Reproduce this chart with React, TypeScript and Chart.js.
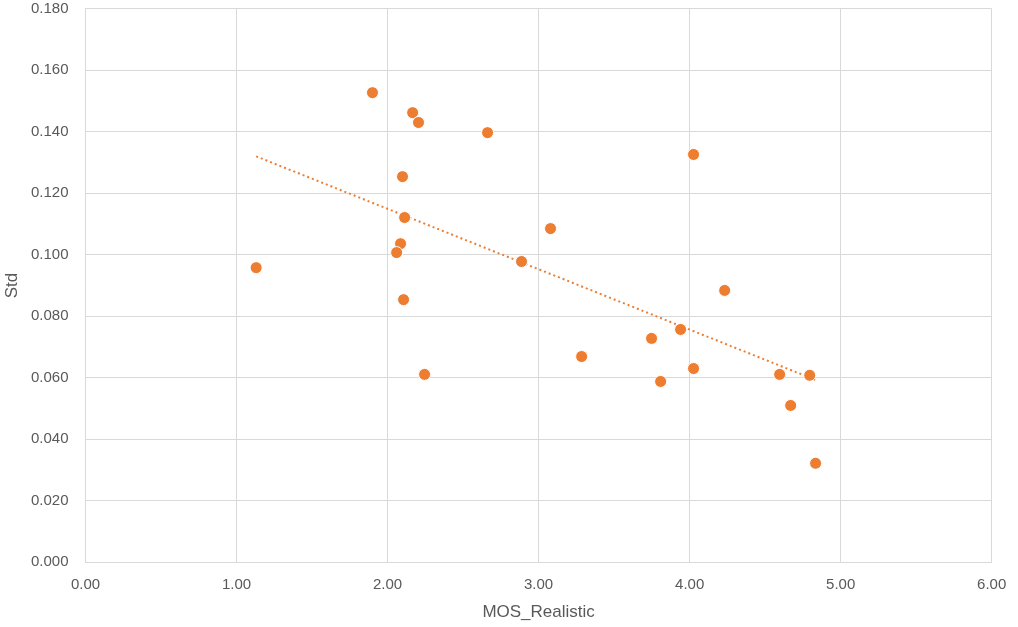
import React, { useEffect, useRef } from "react";
import { Chart, registerables } from "chart.js";

Chart.register(...registerables);

const mosRealistic = [
  1.13, 1.9, 2.166, 2.205, 2.662, 2.099, 2.113, 2.086, 2.06, 2.106, 2.245, 2.887,
  3.079, 3.285, 3.748, 3.808, 3.94, 4.026, 4.026, 4.232, 4.596, 4.669, 4.795, 4.834,
];
const stdValues = [
  0.0958, 0.1527, 0.1462, 0.143, 0.1397, 0.1254, 0.1121, 0.1036, 0.1007, 0.0854, 0.0611, 0.0978,
  0.1085, 0.0669, 0.0728, 0.0588, 0.0757, 0.1326, 0.063, 0.0884, 0.0611, 0.051, 0.0608, 0.0322,
];
const trendX = [1.13, 4.834];
const trendY = [0.132, 0.0593];

const xTickLabel = (v: number) => v.toFixed(2);
const yTickLabel = (v: number) => v.toFixed(3);

const ORANGE = "#ED7D31";
const GRID = "#d9d9d9";
const TEXT = "#595959";
const FONT = "'Liberation Sans', Arial, sans-serif";

export default function App() {
  const ref = useRef<HTMLCanvasElement | null>(null);

  useEffect(() => {
    if (!ref.current) return;
    const points = mosRealistic.map((x, i) => ({ x, y: stdValues[i] }));
    const trend = trendX.map((x, i) => ({ x, y: trendY[i] }));
    const chart = new Chart(ref.current, {
      type: "scatter",
      data: {
        datasets: [
          {
            label: "Std",
            data: points,
            backgroundColor: ORANGE,
            borderColor: "#ffffff",
            borderWidth: 1,
            pointRadius: 6,
            pointHoverRadius: 6,
            order: 1,
          },
          {
            label: "Trend",
            data: trend,
            showLine: true,
            borderColor: ORANGE,
            borderWidth: 2,
            borderDash: [2, 3],
            pointRadius: 0,
            fill: false,
            order: 2,
          } as any,
        ],
      },
      options: {
        animation: false,
        responsive: false,
        maintainAspectRatio: false,
        layout: { padding: { top: 8.7, right: 26.3, left: 0, bottom: 0 } },
        plugins: {
          legend: { display: false },
          tooltip: { enabled: false },
        },
        scales: {
          x: {
            type: "linear",
            min: 0,
            max: 6,
            ticks: {
              stepSize: 1,
              callback: (v: any) => xTickLabel(Number(v)),
              color: TEXT,
              font: { family: FONT, size: 15 },
              padding: 14,
            },
            grid: { color: GRID, lineWidth: 1, drawTicks: false },
            border: { color: GRID, width: 1 },
            title: {
              display: true,
              text: "MOS_Realistic",
              color: TEXT,
              font: { family: FONT, size: 17 },
              padding: { top: 0, bottom: 4 },
            },
            afterFit: (scale: any) => {
              scale.height = 64.7;
              scale.paddingLeft = 0;
              scale.paddingRight = 0;
            },
          },
          y: {
            type: "linear",
            min: 0,
            max: 0.18,
            ticks: {
              stepSize: 0.02,
              callback: (v: any) => yTickLabel(Number(v)),
              color: TEXT,
              font: { family: FONT, size: 15 },
              padding: 17,
            },
            grid: { color: GRID, lineWidth: 1, drawTicks: false },
            border: { color: GRID, width: 1 },
            title: {
              display: true,
              text: "Std",
              color: TEXT,
              font: { family: FONT, size: 17 },
              padding: { top: 2, bottom: 0 },
            },
            afterFit: (scale: any) => {
              scale.width = 85.5;
              scale.paddingTop = 0;
              scale.paddingBottom = 0;
            },
          },
        },
      },
    });
    return () => chart.destroy();
  }, []);

  return (
    <div style={{ position: "fixed", left: 0, top: 0, width: 1018, height: 627, background: "#fff" }}>
      <canvas ref={ref} width={1018} height={627} style={{ width: 1018, height: 627 }} />
    </div>
  );
}
